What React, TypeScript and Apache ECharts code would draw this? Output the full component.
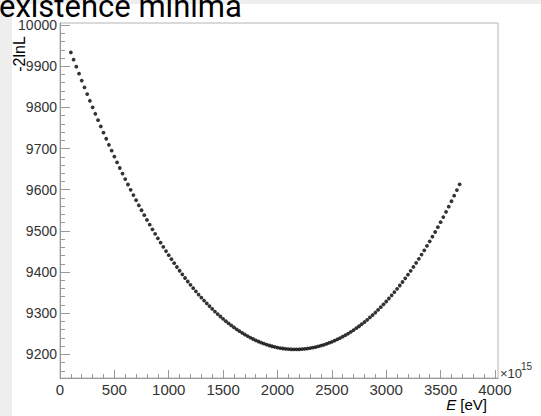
import React, { useEffect, useRef } from "react";
import * as echarts from "echarts";

const ENERGY = [
  100, 125, 150, 175, 200, 225, 250, 275, 300, 325,
  350, 375, 400, 425, 450, 475, 500, 525, 550, 575,
  600, 625, 650, 675, 700, 725, 750, 775, 800, 825,
  850, 875, 900, 925, 950, 975, 1000, 1025, 1050, 1075,
  1100, 1125, 1150, 1175, 1200, 1225, 1250, 1275, 1300, 1325,
  1350, 1375, 1400, 1425, 1450, 1475, 1500, 1525, 1550, 1575,
  1600, 1625, 1650, 1675, 1700, 1725, 1750, 1775, 1800, 1825,
  1850, 1875, 1900, 1925, 1950, 1975, 2000, 2025, 2050, 2075,
  2100, 2125, 2150,
  2175, 2200, 2225, 2250, 2275, 2300, 2325, 2350, 2375, 2400,
  2425, 2450, 2475, 2500, 2525, 2550, 2575, 2600, 2625, 2650,
  2675, 2700, 2725, 2750, 2775, 2800, 2825, 2850, 2875, 2900,
  2925, 2950, 2975, 3000, 3025, 3050, 3075, 3100, 3125, 3150,
  3175, 3200, 3225, 3250, 3275, 3300, 3325, 3350, 3375, 3400,
  3425, 3450, 3475, 3500, 3525, 3550, 3575, 3600, 3625, 3650,
  3675,
];

const NEG2LNL = [
  9933.4, 9916.0, 9898.8, 9881.8, 9865.1, 9848.5, 9832.2, 9816.0, 9800.1, 9784.4,
  9768.9, 9753.7, 9738.6, 9723.7, 9709.1, 9694.7, 9680.5, 9666.4, 9652.7, 9639.1,
  9625.7, 9612.6, 9599.6, 9586.9, 9574.4, 9562.1, 9550.0, 9538.1, 9526.4, 9515.0,
  9503.7, 9492.7, 9481.9, 9471.3, 9460.9, 9450.7, 9440.8, 9431.0, 9421.5, 9412.1,
  9403.0, 9394.1, 9385.4, 9376.9, 9368.7, 9360.6, 9352.8, 9345.1, 9337.7, 9330.5,
  9323.5, 9316.8, 9310.2, 9303.8, 9297.7, 9291.8, 9286.1, 9280.5, 9275.3, 9270.2,
  9265.3, 9260.7, 9256.2, 9252.0, 9248.0, 9244.2, 9240.6, 9237.2, 9234.0, 9231.1,
  9228.3, 9225.8, 9223.5, 9221.4, 9219.5, 9217.8, 9216.4, 9215.1, 9214.1, 9213.2,
  9212.6, 9212.2, 9212.0,
  9212.0, 9212.2, 9212.6, 9213.2, 9214.0, 9215.0, 9216.2, 9217.6, 9219.2, 9221.0,
  9223.0, 9225.2, 9227.6, 9230.2, 9233.0, 9236.1, 9239.3, 9242.8, 9246.5, 9250.4,
  9254.5, 9258.8, 9263.4, 9268.1, 9273.1, 9278.4, 9283.8, 9289.5, 9295.4, 9301.5,
  9307.9, 9314.4, 9321.3, 9328.3, 9335.6, 9343.2, 9351.0, 9359.0, 9367.2, 9375.7,
  9384.5, 9393.5, 9402.7, 9412.2, 9421.9, 9431.9, 9442.2, 9452.7, 9463.4, 9474.4,
  9485.7, 9497.2, 9509.0, 9521.1, 9533.4, 9546.0, 9558.8, 9571.9, 9585.3, 9599.0,
  9612.9,
];

const X_TICKS = [0, 500, 1000, 1500, 2000, 2500, 3000, 3500, 4000];
const X_MINOR = [
  100, 200, 300, 400, 600, 700, 800, 900, 1100, 1200, 1300, 1400,
  1600, 1700, 1800, 1900, 2100, 2200, 2300, 2400, 2600, 2700, 2800, 2900,
  3100, 3200, 3300, 3400, 3600, 3700, 3800, 3900,
];
const Y_TICKS = [9200, 9300, 9400, 9500, 9600, 9700, 9800, 9900, 10000];
const Y_MINOR = [
  9160, 9180, 9220, 9240, 9260, 9280, 9320, 9340, 9360, 9380,
  9420, 9440, 9460, 9480, 9520, 9540, 9560, 9580, 9620, 9640, 9660, 9680,
  9720, 9740, 9760, 9780, 9820, 9840, 9860, 9880, 9920, 9940, 9960, 9980,
];

const TITLE = "existence minima";
const Y_NAME = "-2lnL";
const X_NAME = "{i|E} [eV]";
const X_EXP_BASE = "×10";
const X_EXP_POW = "15";

const X_MIN = 0;
const X_MAX = 4028;
const Y_MIN = 9142.4;
const Y_MAX = 10005;

const AXIS_COLOR = "#999999";
const LABEL_FONT = "Liberation Sans";

export default function App() {
  const ref = useRef<HTMLDivElement>(null);

  useEffect(() => {
    if (!ref.current) return;
    const chart = echarts.init(ref.current, undefined, { renderer: "svg" });
    const data = ENERGY.map((e, i) => [e, NEG2LNL[i]]);
    const plain = (v: number) => String(Math.round(v));

    const xBase = {
      type: "value",
      min: X_MIN,
      max: X_MAX,
      position: "bottom",
      splitLine: { show: false },
    };
    const yBase = {
      type: "value",
      min: Y_MIN,
      max: Y_MAX,
      position: "left",
      splitLine: { show: false },
    };

    chart.setOption({
      animation: false,
      backgroundColor: "#ffffff",
      grid: {
        left: 60,
        top: 23,
        right: 43,
        bottom: 38,
        show: true,
        borderColor: "#b4b4b4",
        borderWidth: 1,
        backgroundColor: "transparent",
      },
      xAxis: [
        {
          ...xBase,
          axisLine: { show: true, lineStyle: { color: AXIS_COLOR, width: 1 } },
          axisTick: {
            show: true,
            inside: true,
            length: 8,
            customValues: X_TICKS,
            lineStyle: { color: AXIS_COLOR },
          },
          axisLabel: {
            customValues: X_TICKS,
            formatter: plain,
            margin: 4,
            fontSize: 15,
            color: "#333333",
            fontFamily: LABEL_FONT,
          },
        },
        {
          ...xBase,
          axisLine: { show: false },
          axisTick: {
            show: true,
            inside: true,
            length: 4,
            customValues: X_MINOR,
            lineStyle: { color: AXIS_COLOR },
          },
          axisLabel: { show: false },
        },
      ],
      yAxis: [
        {
          ...yBase,
          axisLine: { show: true, lineStyle: { color: AXIS_COLOR, width: 1 } },
          axisTick: {
            show: true,
            inside: true,
            length: 10,
            customValues: Y_TICKS,
            lineStyle: { color: AXIS_COLOR },
          },
          axisLabel: {
            customValues: Y_TICKS,
            formatter: plain,
            margin: 3,
            fontSize: 14,
            color: "#333333",
            fontFamily: LABEL_FONT,
          },
        },
        {
          ...yBase,
          axisLine: { show: false },
          axisTick: {
            show: true,
            inside: true,
            length: 5,
            customValues: Y_MINOR,
            lineStyle: { color: AXIS_COLOR },
          },
          axisLabel: { show: false },
        },
      ],
      series: [
        {
          type: "scatter",
          xAxisIndex: 0,
          yAxisIndex: 0,
          data,
          symbol: "circle",
          symbolSize: 3.8,
          itemStyle: { color: "#000000" },
          silent: true,
        },
      ],
      graphic: [
        {
          type: "rect",
          shape: { x: 0, y: 0, width: 12, height: 416 },
          style: { fill: "#eeeeee" },
          z: 1,
        },
        {
          type: "rect",
          shape: { x: 0, y: 0, width: 541, height: 4 },
          style: { fill: "#eeeeee" },
          z: 1,
        },
        {
          type: "text",
          x: -1,
          y: 6,
          z: 5,
          style: {
            text: TITLE,
            fontSize: 31,
            lineHeight: 22,
            fontFamily: "Roboto",
            fill: "#000000",
            align: "left",
            verticalAlign: "middle",
          },
        },
        {
          type: "text",
          x: 19,
          y: 54,
          rotation: Math.PI / 2,
          z: 5,
          style: {
            text: Y_NAME,
            fontSize: 16,
            fontFamily: LABEL_FONT,
            fill: "#000000",
            align: "center",
            verticalAlign: "middle",
          },
        },
        {
          type: "text",
          x: 500,
          y: 373,
          z: 5,
          style: {
            text: X_EXP_BASE,
            fontSize: 13,
            fontFamily: LABEL_FONT,
            fill: "#333333",
            align: "left",
            verticalAlign: "middle",
          },
        },
        {
          type: "text",
          x: 521,
          y: 366,
          z: 5,
          style: {
            text: X_EXP_POW,
            fontSize: 10,
            fontFamily: LABEL_FONT,
            fill: "#333333",
            align: "left",
            verticalAlign: "middle",
          },
        },
        {
          type: "text",
          x: 487,
          y: 404,
          z: 5,
          style: {
            text: X_NAME,
            fontSize: 15,
            lineHeight: 14,
            fontFamily: LABEL_FONT,
            fill: "#000000",
            align: "right",
            verticalAlign: "middle",
            rich: {
              i: {
                fontSize: 15,
                lineHeight: 14,
                fontStyle: "italic",
                fontFamily: LABEL_FONT,
                fill: "#000000",
              },
            },
          },
        },
      ],
    });

    return () => chart.dispose();
  }, []);

  return (
    <div
      ref={ref}
      style={{ position: "fixed", left: 0, top: 0, width: 541, height: 416 }}
    />
  );
}
